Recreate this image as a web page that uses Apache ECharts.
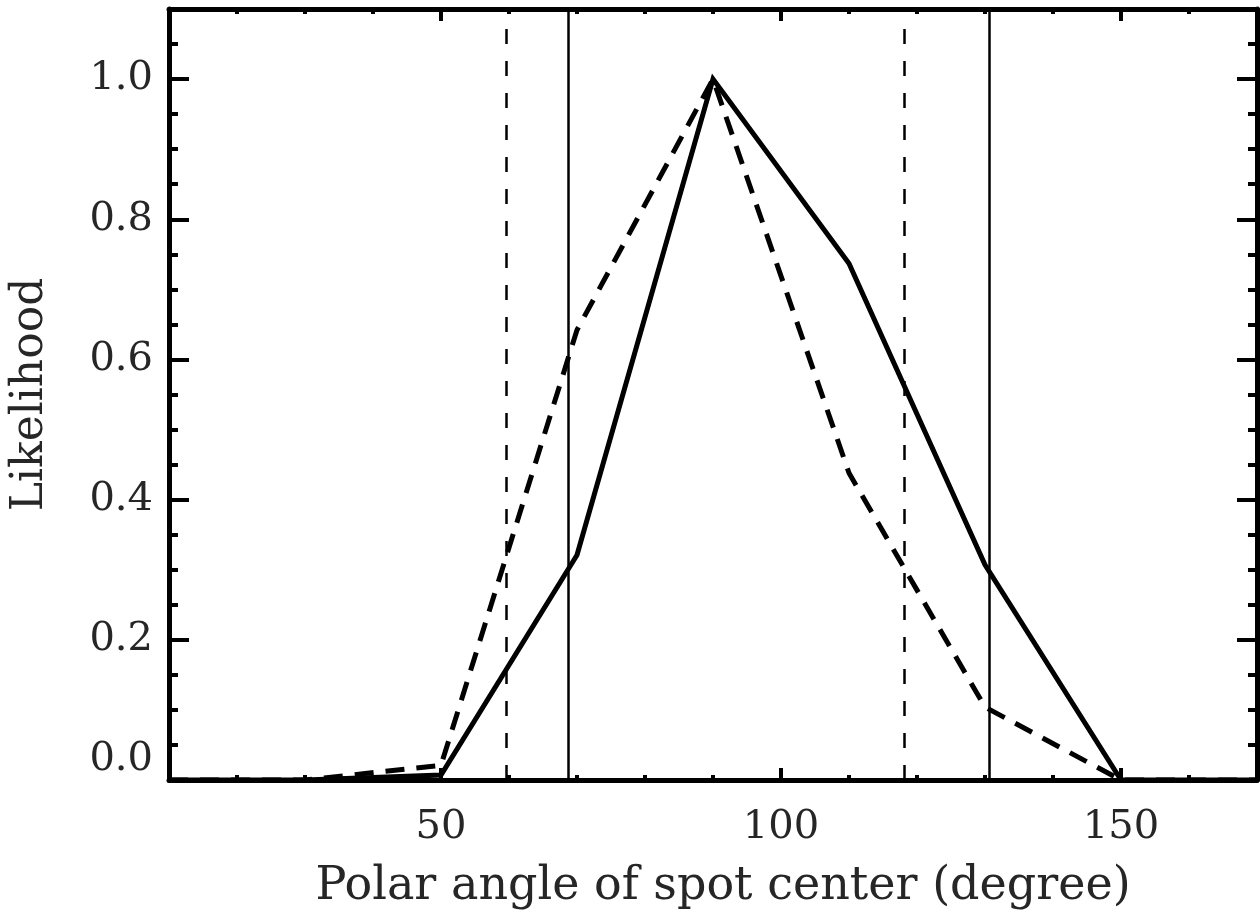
<!DOCTYPE html>
<html>
<head>
<meta charset="utf-8">
<script src="https://cdn.jsdelivr.net/npm/echarts@6/dist/echarts.min.js"></script>
<style>
html,body{margin:0;padding:0;background:#fff;}
#chart{width:1260px;height:914px;}
</style>
</head>
<body>
<div id="chart"></div>
<script>
// Data
const angles = [10, 30, 50, 70, 90, 110, 130, 150, 170];
const likelihoodSolid = [0.0, 0.0, 0.007, 0.321, 1.0, 0.737, 0.307, 0.0, 0.0];
const likelihoodDashed = [0.0, 0.0, 0.021, 0.642, 1.0, 0.438, 0.104, 0.0, 0.0];
const boundsSolid = [68.7, 130.6];
const boundsDashed = [59.6, 118.1];

const xMajorTicks = [50, 100, 150];
const xMinorTicks = [20, 30, 40, 50, 60, 70, 80, 90, 100, 110, 120, 130, 140, 150, 160];
const yMajorTicks = [0.0, 0.2, 0.4, 0.6, 0.8, 1.0];
const yMinorTicks = [0.05, 0.1, 0.15, 0.2, 0.25, 0.3, 0.35, 0.4, 0.45, 0.5, 0.55, 0.6, 0.65, 0.7, 0.75, 0.8, 0.85, 0.9, 0.95, 1.0, 1.05];

const xTitle = 'Polar angle of spot center (degree)';
const yTitle = 'Likelihood';

const FONT = 'DejaVu Serif';
const TEXT_COLOR = '#262626';
const X_MIN = 10, X_MAX = 170, Y_MIN = 0, Y_MAX = 1.1;

function pairs(xs, ys) { return xs.map((x, i) => [x, ys[i]]); }

function xAxisDef(pos, major, showLine) {
  return {
    type: 'value', position: pos, min: X_MIN, max: X_MAX,
    axisLine: { show: showLine, onZero: false, lineStyle: { color: '#000', width: 5 } },
    axisTick: { show: true, inside: true, length: major ? 12 : 5,
      customValues: major ? xMajorTicks : xMinorTicks,
      lineStyle: { color: '#000', width: 4 } },
    axisLabel: major && pos === 'bottom' ? {
      show: true, customValues: xMajorTicks, margin: 28,
      fontFamily: FONT, fontSize: 40, color: TEXT_COLOR,
      formatter: v => String(v)
    } : { show: false },
    splitLine: { show: false },
    name: major && pos === 'bottom' ? xTitle : '',
    nameLocation: 'middle', nameGap: 84,
    nameTextStyle: { fontFamily: FONT, fontSize: 46, color: TEXT_COLOR, padding: [0, 0, 0, 20] }
  };
}
function yAxisDef(pos, major, showLine) {
  return {
    type: 'value', position: pos, min: Y_MIN, max: Y_MAX,
    axisLine: { show: showLine, onZero: false, lineStyle: { color: '#000', width: 5 } },
    axisTick: { show: true, inside: true, length: major ? 20 : 9,
      customValues: major ? yMajorTicks : yMinorTicks,
      lineStyle: { color: '#000', width: 4 } },
    axisLabel: major && pos === 'left' ? {
      show: true, customValues: yMajorTicks, margin: 16,
      fontFamily: FONT, fontSize: 40, color: TEXT_COLOR,
      verticalAlignMinLabel: 'bottom',
      formatter: v => v.toFixed(1)
    } : { show: false },
    splitLine: { show: false },
    name: major && pos === 'left' ? yTitle : '',
    nameLocation: 'middle', nameRotate: 90, nameGap: 116,
    nameTextStyle: { fontFamily: FONT, fontSize: 44, color: TEXT_COLOR }
  };
}

const chart = echarts.init(document.getElementById('chart'), null, { renderer: 'canvas' });
chart.setOption({
  backgroundColor: '#fff',
  animation: false,
  grid: { left: 169, right: 3, top: 9, bottom: 134, containLabel: false, outerBoundsMode: 'none' },
  xAxis: [
    xAxisDef('bottom', true, true),
    xAxisDef('bottom', false, false),
    xAxisDef('top', true, true),
    xAxisDef('top', false, false)
  ],
  yAxis: [
    yAxisDef('left', true, true),
    yAxisDef('left', false, false),
    yAxisDef('right', true, true),
    yAxisDef('right', false, false)
  ],
  series: [
    {
      type: 'line', xAxisIndex: 0, yAxisIndex: 0,
      data: pairs(angles, likelihoodSolid),
      symbol: 'none', silent: true,
      lineStyle: { color: '#000', width: 5, type: 'solid', join: 'miter' },
      markLine: {
        silent: true, symbol: 'none', label: { show: false },
        lineStyle: { color: '#000', width: 2.5, type: 'solid' },
        data: boundsSolid.map(v => ({ xAxis: v }))
      }
    },
    {
      type: 'line', xAxisIndex: 0, yAxisIndex: 0,
      data: pairs(angles, likelihoodDashed),
      symbol: 'none', silent: true,
      lineStyle: { color: '#000', width: 5, type: [19, 12] },
      markLine: {
        silent: true, symbol: 'none', label: { show: false },
        lineStyle: { color: '#000', width: 2.5, type: [15, 17] },
        data: boundsDashed.map(v => ({ xAxis: v }))
      }
    }
  ]
});
</script>
</body>
</html>
